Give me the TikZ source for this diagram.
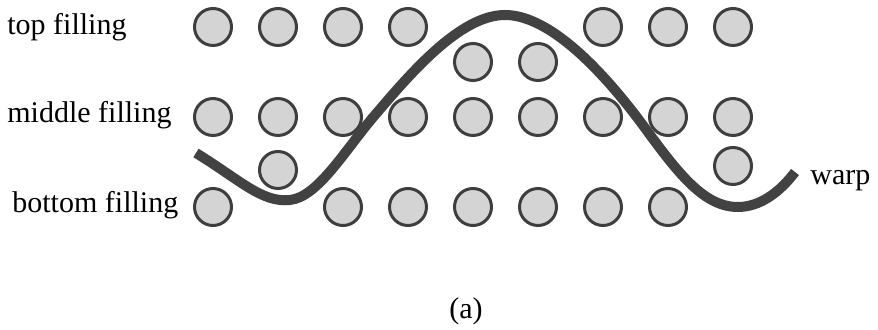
\documentclass[tikz,border=0pt]{standalone}
\usepackage{fontspec}
\setmainfont{Liberation Serif}
\usepackage{tikz}
\definecolor{yarnrim}{RGB}{62,62,62}
\definecolor{yarnfill}{RGB}{212,212,212}
\definecolor{warpgray}{RGB}{66,66,66}

\begin{document}
\begin{tikzpicture}[x=0.5pt,y=-0.5pt,line cap=round,
  yarn/.style={circle,draw=yarnrim,line width=1.5pt,fill=yarnfill,minimum size=18.5pt,inner sep=0pt},
  lab/.style={anchor=base west,inner sep=0pt,font=\fontsize{15}{18}\selectfont}]
  \useasboundingbox (0,0) rectangle (878,330);
  % filling yarns: top, middle and bottom rows
  \foreach \c/\ty/\by in {0/27/207,1/27/170,2/27/207,3/27/207,4/62/207,5/62/207,6/27/207,7/27/207,8/27/166}{
    \node[yarn] (top\c) at ({213+65*\c},\ty) {};
    \node[yarn] (mid\c) at ({213+65*\c},117) {};
    \node[yarn] (bot\c) at ({213+65*\c},\by) {};}
  \node[lab] (toplab) at (7,35) {top filling};
  \node[lab] (midlab) at (7,123) {middle filling};
  \node[lab] (botlab) at (12,213) {bottom filling};
  % warp yarn
  \draw[warpgray,line width=5pt,line cap=butt] (196,153) .. controls (240,180) and (262,203) .. (290,200)
    .. controls (318,197) and (345,150) .. (375,115) .. controls (410,74) and (460,15) .. (505,15)
    .. controls (545,15) and (595,60) .. (645,128) .. controls (680,176) and (705,207) .. (738,207)
    .. controls (760,207) and (780,192) .. (795,172);
  \node[lab] (warplab) at (810,185) {warp};
  \node[anchor=base,inner sep=0pt,font=\fontsize{15}{18}\selectfont] (caption) at (466,319) {(a)};
\end{tikzpicture}
\end{document}
